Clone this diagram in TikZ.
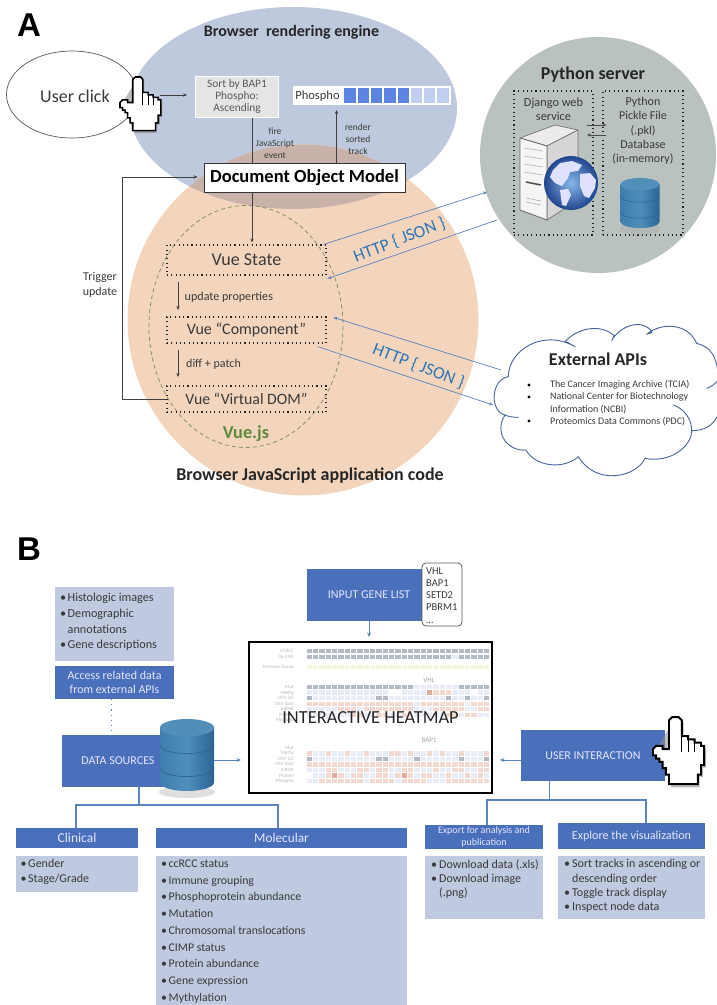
\documentclass[tikz,border=0pt]{standalone}
\usepackage{fontspec}
\setmainfont{Carlito}
\newfontfamily\labfont{Liberation Sans}
\usetikzlibrary{arrows.meta,calc,shapes.geometric}
\definecolor{blueell}{HTML}{BFC9DE}
\definecolor{orangeell}{HTML}{F3D5BD}
\definecolor{overlap}{HTML}{C8B2AA}
\definecolor{pygray}{HTML}{B9C2BE}
\definecolor{barblue}{HTML}{4A70BC}
\definecolor{lightbar}{HTML}{BFC9E0}
\definecolor{linkblue}{HTML}{5B84BE}
\definecolor{httpblue}{HTML}{2E75B6}
\definecolor{txt}{HTML}{3A3A3A}
\definecolor{vuegreen}{HTML}{5F8A3C}
\definecolor{olive}{HTML}{84945C}
\definecolor{cloudline}{HTML}{45649B}
\definecolor{hg}{HTML}{B4B9C6}
\definecolor{hb}{HTML}{E7ECF6}
\definecolor{hr}{HTML}{F3D8D0}
\definecolor{hd}{HTML}{DFAC9F}
\definecolor{hy}{HTML}{F5F6DA}
\definecolor{hw}{HTML}{FFFFFF}
\definecolor{cylmid}{HTML}{4F8EBC}
\definecolor{cylleft}{HTML}{3F7DAE}
\definecolor{cylright}{HTML}{2A6494}
\definecolor{cyltop}{HTML}{528EBA}
\definecolor{cylband}{HTML}{2A6490}
\definecolor{globein}{HTML}{86B8EA}
\definecolor{globeout}{HTML}{23488F}
\newcommand\fsz[2]{\fontsize{#1}{#2}\selectfont}
\newcommand\bul{\makebox[7.5pt][l]{•}}
\newcommand\bulw{\makebox[8pt][l]{•}}
\makeatletter
\newcount\hmcol
\newcommand\hmrow[2]{\hmcol=0\relax
  \@tfor\hmc:=#2\do{%
    \fill[fill=h\hmc] ({306.7+6.33*\the\hmcol},{#1-2.4}) rectangle ++(5.4,4.8);%
    \global\advance\hmcol by 1\relax}}
\makeatother
\newcommand\handcursor[3]{%
  \begin{scope}[shift={(#1,#2)},scale=#3]
    \fill[black!45,opacity=.55] (6.6,0.8)--(8.6,0.8)--(9.6,1.8)--(9.6,6.8)--(11.6,6.8)--(11.6,7.8)--(13.6,7.8)--(13.6,8.8)--(15.6,8.8)--(15.6,9.8)--(16.6,9.8)--(16.6,15.8)--(15.6,15.8)--(15.6,18.8)--(14.6,18.8)--(14.6,22)--(5.6,22)--(5.6,18.8)--(4.6,18.8)--(4.6,16.8)--(3.6,16.8)--(3.6,14.8)--(2.6,14.8)--(2.6,13.8)--(1.6,13.8)--(1.6,12.8)--(.6,12.8)--(.6,10.8)--cycle;
    \filldraw[fill=white,draw=black,line width=#3*0.62pt,line join=miter] (6,0)--(8,0)--(9,1)--(9,6)--(11,6)--(11,7)--(13,7)--(13,8)--(15,8)--(15,9)--(16,9)--(16,15)--(15,15)--(15,18)--(14,18)--(14,21)--(5,21)--(5,18)--(4,18)--(4,16)--(3,16)--(3,14)--(2,14)--(2,13)--(1,13)--(1,12)--(0,12)--(0,10)--(1,9)--(3,9)--(3,10)--(5,10)--(5,1)--cycle;
    \draw[black,line width=#3*0.42pt] (9,6)--(9,11) (11,7)--(11,11) (13,8)--(13,11);
  \end{scope}}
\newcommand\dbcyl[4]{% cx, top, half width, total height
  \begin{scope}[shift={(#1,#2)}]
    \fill[black!35,opacity=.35] (0,{#4+1}) ellipse ({#3+1} and 6);
    \shade[left color=cylleft,right color=cylright,middle color=cylmid]
      (-#3,{#3*.32}) -- (-#3,{#4-#3*.32}) arc[start angle=180,end angle=0,x radius=#3,y radius=#3*.32] -- (#3,{#3*.32}) -- cycle;
    \foreach \f in {.36,.68}{
      \draw[cylband,line width=.6pt] (-#3,{#4*\f}) arc[start angle=180,end angle=0,x radius=#3,y radius=#3*.32];
    }
    \fill[cyltop] (0,{#3*.32}) ellipse ({#3} and {#3*.32});
  \end{scope}}
\tikzset{
  x=1pt,y=-1pt,
  lbl/.style={inner sep=0pt,text=txt,align=center},
  thinarrow/.style={draw=black!75,line width=.6pt,-{Stealth[length=4pt,width=3.4pt]}},
  thinline/.style={draw=black!75,line width=.6pt},
  dotbox/.style={draw=black!85,line width=1.1pt,dash pattern=on 1.1pt off 3.2pt,inner sep=0pt,text=txt,align=center},
  httparrow/.style={draw=linkblue,line width=.7pt,-{Stealth[length=4pt,width=3.4pt]}},
  linkarrow/.style={draw=linkblue,line width=.9pt,-{Stealth[length=4.5pt,width=4pt]}},
  treeline/.style={draw=linkblue,line width=1.4pt},
  darkbar/.style={fill=barblue,draw=none,inner sep=0pt,text=white!90!blue,align=center},
  lightpanel/.style={fill=lightbar,draw=none,inner sep=0pt},
  listtxt/.style={inner sep=0pt,anchor=west,align=left,text=txt},
  paneltag/.style={inner sep=0pt,font=\labfont\bfseries\fsz{33}{35},text=black},
}
\begin{document}
\begin{tikzpicture}
\useasboundingbox (0,0) rectangle (716,1005);
\fill[white] (0,0) rectangle (716,1005);

% --- Panel A backgrounds
\fill[blueell] (293,108) ellipse (164 and 101);
\fill[orangeell] (303,320) circle (175.5);
\begin{scope}
  \clip (293,108) ellipse (164 and 101);
  \fill[overlap] (303,320) circle (175.5);
\end{scope}
\fill[pygray] (598,155) circle (118);

\node[paneltag] (labA) at (29,25) {A};
\node[lbl,font=\bfseries\fsz{16}{18},text=black!85] (brtitle) at (291.5,32) {Browser\ \ rendering engine};

\node[ellipse,draw=black!65,fill=white,line width=.7pt,minimum width=131pt,minimum height=87pt,inner sep=0pt] (click) at (72,94.5) {};
\node[lbl,font=\fsz{18}{20}] (clicktxt) at (75,96) {User click};

\node[draw=white,line width=1pt,fill=black!10,minimum width=83pt,minimum height=41pt,inner sep=0pt,text=black!65,align=center,font=\fsz{11.4}{11.7}] (sort) at (237,96.5) {Sort by BAP1\\Phospho:\\Ascending};
\node[fill=white,minimum width=158pt,minimum height=19pt,inner sep=0pt] (track) at (372,95.5) {};
\node[lbl,font=\fsz{12.5}{14}] (phos) at (317.5,96) {Phospho};
\foreach \i in {0,...,4}{\fill[fill={rgb,255:red,92;green,133;blue,226}] ({344.3+13.3*\i},88) rectangle ++(11.3,15);}
\foreach \i in {5,6,7}{\fill[fill={rgb,255:red,192;green,206;blue,241}] ({344.3+13.3*\i},88) rectangle ++(11.3,15);}

\node[draw=black!80,fill=white,line width=.9pt,minimum width=201pt,minimum height=29pt,inner sep=0pt,font=\bfseries\fsz{18.5}{20},text=black] (dom) at (304.5,177.5) {Document Object Model};

\node[lbl,font=\fsz{9.5}{12}] (fire) at (275,143) {fire\\JavaScript\\event};
\node[lbl,font=\fsz{9.5}{12}] (render) at (358,139) {render\\sorted\\track};
\draw[thinline] ([xshift=15pt]sort.south) -- ([xshift=-52.5pt]dom.north);
\draw[thinarrow] ([xshift=32pt]dom.north) -- (336.5,110);

% Vue
\draw[draw=olive,line width=.8pt,dash pattern=on 4pt off 3pt] (246,326.5) ellipse (97 and 121);
\node[dotbox,minimum width=159pt,minimum height=30pt,font=\fsz{18}{20}] (state) at (246.5,260) {Vue State};
\node[dotbox,minimum width=159pt,minimum height=26pt,font=\fsz{16}{19}] (comp) at (246.5,330) {Vue “Component”};
\node[dotbox,minimum width=159pt,minimum height=26pt,font=\fsz{15.8}{19}] (vdom) at (246.5,399) {Vue “Virtual DOM”};
\node[lbl,font=\bfseries\fsz{18.3}{20},text=vuegreen] (vuejs) at (246,434) {Vue.js};
\node[lbl,font=\bfseries\fsz{18}{20},text=black!85] (brjs) at (310,476) {Browser JavaScript application code};

\draw[thinarrow] ([xshift=-52.5pt]dom.south) -- ([xshift=5.5pt,yshift=2pt]state.north);
\coordinate (trigturn) at (122,399);
\coordinate (trigtop) at (122,177);
\draw[thinarrow] (vdom.west) -- (trigturn) -- (trigtop) -- ([xshift=-6pt,yshift=.5pt]dom.west);
\node[lbl,font=\fsz{12}{15}] (trig) at (100,284.5) {Trigger\\update};
\coordinate (upa) at (178,282);
\coordinate (upb) at (178,310);
\coordinate (dia) at (178,350);
\coordinate (dib) at (178,377);
\draw[thinarrow] (upa) -- (upb);
\node[lbl,font=\fsz{12.1}{14},anchor=west] (upd) at (184.5,297) {update properties};
\draw[thinarrow] (dia) -- (dib);
\node[lbl,font=\fsz{12}{14},anchor=west] (diff) at (186,364) {diff + patch};

% Python server
\node[lbl,font=\bfseries\fsz{18}{20},text=black!85] (pytitle) at (593,75) {Python server};
\node[dotbox,minimum width=79pt,minimum height=144pt] (django) at (553.5,163) {};
\node[dotbox,minimum width=80pt,minimum height=144pt] (pickle) at (643,163) {};
\node[lbl,font=\fsz{12.3}{14.3}] (djtxt) at (553.5,109) {Django web\\service};
\node[lbl,font=\fsz{12}{14.3}] (pktxt) at (643,131) {Python\\Pickle File\\(.pkl)\\Database\\(in-memory)};
\draw[thinarrow,draw=black!70] ([xshift=-6.5pt,yshift=38pt]django.east) -- ([xshift=4pt,yshift=38pt]pickle.west);
\draw[thinarrow,draw=black!70] ([xshift=4pt,yshift=28pt]pickle.west) -- ([xshift=-6.5pt,yshift=28pt]django.east);
% server icon
\filldraw[fill=black!8,draw=black!55,line width=.7pt,line join=round] (520,138) -- (555,125) -- (578,130) -- (547,146) -- cycle;
\filldraw[fill=black!16,draw=black!55,line width=.7pt,line join=round] (547,146) -- (578,130) -- (578,200) -- (547,220) -- cycle;
\filldraw[fill=black!4,draw=black!60,line width=.8pt,line join=round] (520,138) -- (547,146) -- (547,220) -- (520,210) -- cycle;
\foreach \yy in {148,156,164,172}{\draw[black!30,line width=.6pt] (524,\yy) -- (543,{\yy+3});}
\draw[black!70,line width=1.5pt] (526,182) -- (541,185);
\draw[black!30,line width=.6pt] (526,198) -- (541,201) (526,202) -- (541,205);
\shade[inner color=globein,outer color=globeout] (571,183) circle (26.5);
\fill[white!88!blue] (553,170) -- (560,163) -- (572,161) -- (582,165) -- (578,171) -- (570,172) -- (568,178) -- (562,186) -- (555,183) -- (550,177) -- cycle;
\fill[white!88!blue] (560,190) -- (568,189) -- (571,195) -- (566,206) -- (562,205) -- cycle;
\fill[white!88!blue] (580,174) -- (590,173) -- (596,180) -- (595,188) -- (589,198) -- (584,196) -- (580,186) -- cycle;
\draw[globeout,line width=1pt] (571,183) circle (26.5);
\dbcyl{640}{178}{19.5}{50}

% HTTP links
\coordinate (pyin) at (487,192);
\coordinate (pyout) at (497,220);
\coordinate (cloudin) at (493,405);
\coordinate (cloudout) at (501,370);
\draw[httparrow] (state.north east) ++(-3,0) -- (pyin);
\draw[httparrow] (pyout) -- ([xshift=1pt,yshift=-3pt]state.south east);
\draw[httparrow] (cloudout) -- ([xshift=7pt,yshift=-1pt]comp.north east);
\draw[httparrow] ([xshift=-9pt,yshift=-3pt]comp.south east) -- (cloudin);
\node[inner sep=0pt,font=\fsz{17.5}{19},text=httpblue,rotate=21] (http1) at (399.5,240) {HTTP \{ JSON \}};
\node[inner sep=0pt,font=\fsz{17.5}{19},text=httpblue,rotate=-21] (http2) at (418.5,366) {HTTP \{ JSON \}};

% Cloud
\begin{scope}[shift={(480,300)},scale=1/3]
\filldraw[fill=white,draw=cloudline,line width=.9pt,line join=round]
 (85,230) .. controls (85,150) and (190,85) .. (285,140)
 .. controls (290,145) and (265,125) .. (255,125)
 .. controls (290,85) and (360,70) .. (400,105)
 .. controls (405,100) and (400,115) .. (395,122)
 .. controls (420,75) and (490,55) .. (515,95)
 .. controls (520,100) and (510,98) .. (500,103)
 .. controls (545,65) and (625,70) .. (650,130)
 .. controls (690,140) and (712,165) .. (716,240)
 -- (716,340)
 .. controls (700,380) and (670,392) .. (635,392)
 .. controls (635,440) and (570,490) .. (495,475)
 .. controls (470,530) and (350,560) .. (295,470)
 .. controls (250,510) and (165,500) .. (138,450)
 .. controls (85,455) and (40,400) .. (75,345)
 .. controls (30,335) and (30,240) .. (85,230) -- cycle;
\draw[cloudline,line width=.9pt] (75,345) .. controls (85,350) and (100,352) .. (115,352)
 (580,315) .. controls (610,325) and (635,355) .. (635,392)
 (680,265) .. controls (695,260) and (708,250) .. (716,238);
\end{scope}
\node[lbl,font=\bfseries\fsz{18}{20},text=black!85] (exttxt) at (598,359) {External APIs};
\node[listtxt,font=\fsz{10}{12.1}] (extlist) at (550,403) {The Cancer Imaging Archive (TCIA)\\National Center for Biotechnology\\Information (NCBI)\\Proteomics Data Commons (PDC)};
\foreach \yy in {385,397,421}{\fill[black] (529,\yy) circle (1.6);}

% --- Panel B
\node[paneltag] (labB) at (29,549) {B};
\node[lightpanel,minimum width=119pt,minimum height=74pt] (apipanel) at (114.5,624) {};
\node[listtxt,font=\fsz{12.2}{15.8}] (apilist) at (60,622) {\bul Histologic images\\\bul Demographic\\\hspace*{7.5pt}annotations\\\bul Gene descriptions};
\node[darkbar,minimum width=119pt,minimum height=33pt,font=\fsz{12}{14}] (access) at (114.5,682.5) {Access related data\\from external APIs};
\node[darkbar,minimum width=103pt,minimum height=52pt,font=\fsz{12}{14}] (data) at (113.5,761) {\hspace*{9pt}DATA SOURCES};
\dbcyl{187}{719}{27}{72}
\draw[draw=linkblue,line width=1pt,dash pattern=on 1.1pt off 4pt] ([xshift=-3.5pt]access.south) -- ([xshift=-2.5pt]data.north);

\node[fill=white,draw=black,line width=2pt,minimum width=243pt,minimum height=151pt,inner sep=0pt] (heat) at (370.5,717.5) {};
\foreach \yy/\t in {651/CCRCC,657/3p-CNV,667/Immune Group,687/Mut,692.7/Methy,698/CNV (cl),704/CNV (bal),709/mRNA,715/Protein,720/Phospho,748/Mut,753.5/Methy,759/CNV (cl),764.5/CNV (bal),770/mRNA,775.5/Protein,781/Phospho}{
  \node[inner sep=0pt,anchor=east,font=\fsz{5}{5.2},text=black!28] at (294,\yy) {\t};}
\node[inner sep=0pt,font=\fsz{7}{8},text=black!35] (vhl) at (429,680) {VHL};
\node[inner sep=0pt,font=\fsz{7}{8},text=black!35] (bap) at (429,740) {BAP1};
\hmrow{651}{ggggggggggggggggggggggggggggg}
\hmrow{657}{gggggggggggggggggggggggbggggg}
\hmrow{667}{yyyyyyyyyyyyyyyyyyyyyyyyyyyyy}
\hmrow{687}{gggggggggggggggggbbbbbbbggggg}
\hmrow{692.7}{bbbbbbbbbbbbbwwbbbbdrrrbbbwbb}
\hmrow{698}{gbbbbbbbbbbggbbbbbbbbbgbbgbbg}
\hmrow{704}{rrrrrrrrrrrrrrrrrbrrrrrrrbrrr}
\hmrow{709}{bbbbbrrrbrrrrrrrrbbbrrrrrbbrr}
\hmrow{715}{bbbbbbbrrbbrrbbrrbbbbbrrbrrbb}
\hmrow{753.5}{rbbrbbrbbrbbbrrbrbbrbrbbrbbbr}
\hmrow{759}{gbbbbbbbbbbggbbbbgbbbbbbgbbbg}
\hmrow{764.5}{rrrrrrrrrrrrrrrrrrrrrrrrrrrrr}
\hmrow{770}{bbbrrbbbrrbrrbbrrbbbrbbrrbbrr}
\hmrow{775.5}{wbbrdrbrrbbrrbrdrbrrbbrbbrbrb}
\hmrow{781}{bbrrrrrrrbrrrrbrrrrbbbrrrrrrr}
\node[inner sep=0pt,font=\fsz{18.4}{20},text=black!85] (heattxt) at (370.5,718) {INTERACTIVE HEATMAP};

\node[darkbar,minimum width=115pt,minimum height=52pt,font=\fsz{12}{14}] (input) at (364.5,595) {\hspace*{9pt}INPUT GENE LIST};
\node[draw=black!65,fill=white,line width=.8pt,rounded corners=4pt,minimum width=40pt,minimum height=63pt,inner sep=0pt] (genes) at (442,594.5) {};
\node[listtxt,font=\fsz{10.5}{12.1}] (genetxt) at (426,595.5) {VHL\\BAP1\\SETD2\\PBRM1\\…};
\draw[linkarrow] ([xshift=4.5pt]input.south) -- ([xshift=-1.5pt,yshift=4pt]heat.north);
\coordinate (dsout) at (214,760);
\draw[linkarrow] (dsout) -- ([xshift=-7pt,yshift=-42.5pt]heat.west);

\node[darkbar,minimum width=144pt,minimum height=51pt,font=\fsz{12}{14}] (user) at (593,755.5) {USER INTERACTION};
\draw[linkarrow] ([yshift=-4.5pt]user.west) -- ([xshift=7pt,yshift=-42.5pt]heat.east);
\handcursor{653}{717}{3.2}

% trees
\node[darkbar,minimum width=122pt,minimum height=20pt,font=\fsz{13.5}{16}] (clin) at (77,838) {Clinical};
\node[darkbar,minimum width=251pt,minimum height=20pt,font=\fsz{13.3}{16}] (mol) at (281.5,838) {Molecular};
\node[lightpanel,minimum width=122pt,minimum height=36pt] (clinp) at (77,874) {};
\node[lightpanel,minimum width=251pt,minimum height=150pt] (molp) at (281.5,931) {};
\coordinate (dsbus) at (139,805);
\coordinate (dsl) at (76,805);
\coordinate (dsr) at (278,805);
\draw[treeline] (data.south -| dsbus) -- (dsbus);
\draw[treeline] (clin.north -| dsl) -- (dsl) -- (dsr) -- (mol.north -| dsr);
\node[listtxt,font=\fsz{12}{14.8}] (clinl) at (20.5,871.5) {\bul Gender\\\bul Stage/Grade};
\node[listtxt,font=\fsz{11.8}{16.75}] (moll) at (161,931.5) {\bul ccRCC status\\\bul Immune grouping\\\bul Phosphoprotein abundance\\\bul Mutation\\\bul Chromosomal translocations\\\bul CIMP status\\\bul Protein abundance\\\bul Gene expression\\\bul Mythylation};

\node[darkbar,minimum width=118pt,minimum height=24pt,font=\fsz{10}{12.3}] (exportb) at (484,837) {Export for analysis and\\publication};
\node[darkbar,minimum width=147pt,minimum height=26pt,font=\fsz{12.1}{14}] (explore) at (631.5,836) {Explore the visualization};
\node[lightpanel,minimum width=118pt,minimum height=63.5pt] (exportp) at (484,887.7) {};
\node[lightpanel,minimum width=147pt,minimum height=63.5pt] (explorep) at (631.5,887.7) {};
\coordinate (uibus) at (549.5,800);
\coordinate (uil) at (487,800);
\coordinate (uir) at (646,800);
\draw[treeline] (user.south -| uibus) -- (uibus);
\draw[treeline] (exportb.north -| uil) -- (uil) -- (uir) -- (explore.north -| uir);
\node[listtxt,font=\fsz{12}{14.2}] (expl) at (431,879) {\bulw Download data (.xls)\\\bulw Download image\\\hspace*{8pt}(.png)};
\node[listtxt,font=\fsz{12}{14.2}] (expll) at (564,886) {\bulw Sort tracks in ascending or\\\hspace*{8pt}descending order\\\bulw Toggle track display\\\bulw Inspect node data};

% click cursor and its arrow
\handcursor{120}{77}{2.55}
\coordinate (handtip) at (160,95);
\draw[thinarrow] (handtip) -- ([xshift=-8pt,yshift=1.5pt]sort.west);
\end{tikzpicture}
\end{document}
